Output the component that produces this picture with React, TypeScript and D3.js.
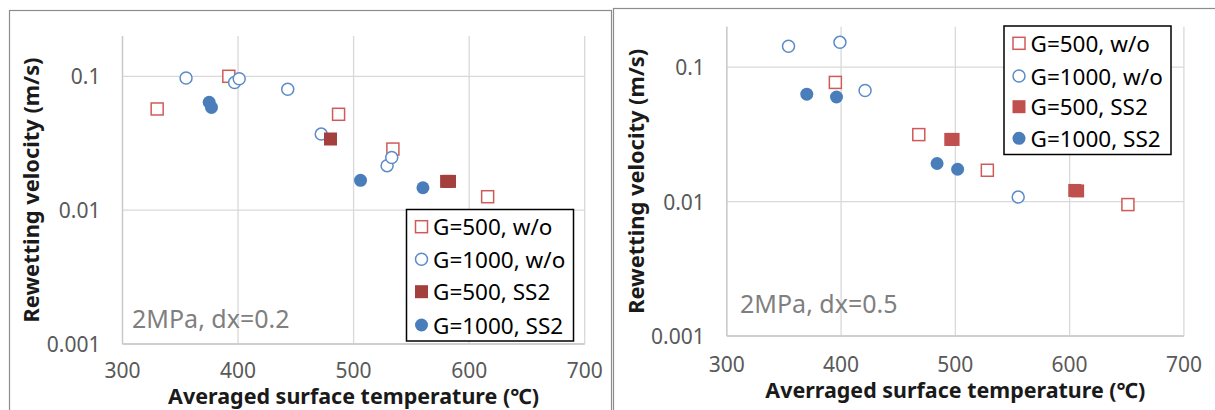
import React from 'react';
import * as d3 from 'd3';

// ---- data ----
const xTicks = [300, 400, 500, 600, 700];
const yTicks = [0.001, 0.01, 0.1];
const yTickLabels = ['0.001', '0.01', '0.1'];
const seriesNames = ['G=500, w/o', 'G=1000, w/o', 'G=500, SS2', 'G=1000, SS2'];

// left panel: dx=0.2
const leftG500WoT = [330, 392, 487, 534, 616];
const leftG500WoV = [0.057, 0.1, 0.052, 0.0286, 0.0126];
const leftG1000WoT = [355, 397, 401, 443, 472, 529, 533];
const leftG1000WoV = [0.097, 0.09, 0.096, 0.08, 0.037, 0.0215, 0.0247];
const leftG500SsT = [480, 580.5, 583];
const leftG500SsV = [0.034, 0.0164, 0.0164];
const leftG1000SsT = [375, 377, 506, 560];
const leftG1000SsV = [0.064, 0.0585, 0.0167, 0.0147];

// right panel: dx=0.5
const rightG500WoT = [395, 468, 528, 651];
const rightG500WoV = [0.077, 0.0315, 0.0171, 0.0095];
const rightG1000WoT = [354, 399, 421, 555];
const rightG1000WoV = [0.143, 0.153, 0.067, 0.0108];
const rightG500SsT = [496, 498, 604.5, 607];
const rightG500SsV = [0.029, 0.029, 0.0121, 0.012];
const rightG1000SsT = [370, 396, 484, 502];
const rightG1000SsV = [0.063, 0.06, 0.0192, 0.0174];

const zip = (t: number[], v: number[]) => t.map((d, i) => ({ t: d, v: v[i] }));

const FONT = '"Noto Sans", "DejaVu Sans", sans-serif';
const RED_LINE = '#CF5B58';
const BLUE_LINE = '#5B8BC8';
const BLUE_FILL = '#4A7EBB';

type Layout = {
  box: [number, number, number, number];
  x0: number; x1: number; yTop: number; yBottom: number;
  xTickBase: number;
  xTitle: string; xTitleBase: number; xTitleLen: number;
  yTitleX: number; yTitleLen: number;
  note: string; noteX: number; noteY: number;
  legend: { x: number; y: number; w: number; h: number; rows: number[]; markX: number; textX: number };
  squareFill: string;
  series: { t: number; v: number }[][];
};

const Marker = ({ kind, x, y, fill }: { kind: number; x: number; y: number; fill: string }) => {
  if (kind === 0)
    return <rect x={x - 6} y={y - 6} width={12} height={12} fill="#fff" stroke={RED_LINE} strokeWidth={1.5} />;
  if (kind === 1) return <circle cx={x} cy={y} r={6} fill="#fff" stroke={BLUE_LINE} strokeWidth={1.5} />;
  if (kind === 2) return <rect x={x - 6.5} y={y - 6.5} width={13} height={13} fill={fill} />;
  return <circle cx={x} cy={y} r={6.5} fill={BLUE_FILL} />;
};

const Panel = ({ p }: { p: Layout }) => {
  const x = d3.scaleLinear().domain([300, 700]).range([p.x0, p.x1]);
  const y = d3.scaleLog().domain([0.001, 0.2]).range([p.yBottom, p.yTop]);
  const lg = p.legend;
  return (
    <g>
      <rect x={p.box[0]} y={p.box[1]} width={p.box[2]} height={p.box[3]} fill="#fff" stroke="#8c8c8c" strokeWidth={1.2} />
      {xTicks.map(t => (
        <line key={'gx' + t} x1={x(t)} x2={x(t)} y1={p.yTop} y2={p.yBottom} stroke="#d9d9d9" strokeWidth={1.3} />
      ))}
      {yTicks.map(t => (
        <line key={'gy' + t} x1={p.x0} x2={p.x1} y1={y(t)} y2={y(t)} stroke="#d9d9d9" strokeWidth={1.3} />
      ))}
      <line x1={p.x0} x2={p.x1} y1={p.yBottom} y2={p.yBottom} stroke="#c8c8c8" strokeWidth={1.3} />
      <line x1={p.x0} x2={p.x0} y1={p.yTop} y2={p.yBottom} stroke="#c8c8c8" strokeWidth={1.3} />
      {xTicks.map(t => (
        <text key={'lx' + t} x={x(t)} y={p.xTickBase} textAnchor="middle" fontSize={21} fill="#595959" fontFamily={FONT}>
          {t}
        </text>
      ))}
      {yTicks.map((t, i) => (
        <text key={'ly' + t} x={p.x0 - 22} y={y(t)} textAnchor="end" dominantBaseline="central" fontSize={21} fill="#595959" fontFamily={FONT}>
          {yTickLabels[i]}
        </text>
      ))}
      <text x={(p.x0 + p.x1) / 2} y={p.xTitleBase} textAnchor="middle" fontSize={21} fontWeight="bold" fill="#1a1a1a"
        fontFamily={FONT} textLength={p.xTitleLen} lengthAdjust="spacingAndGlyphs">
        {p.xTitle}
      </text>
      <text transform={`translate(${p.yTitleX},${(p.yTop + p.yBottom) / 2}) rotate(-90)`} textAnchor="middle" fontSize={21}
        fontWeight="bold" fill="#1a1a1a" fontFamily={FONT} textLength={p.yTitleLen} lengthAdjust="spacingAndGlyphs">
        Rewetting velocity (m/s)
      </text>
      <text x={p.noteX} y={p.noteY} fontSize={25} fill="#7f7f7f" fontFamily={FONT}>
        {p.note}
      </text>
      {p.series.map((s, k) =>
        s.map((d, i) => <Marker key={k + '-' + i} kind={k} x={x(d.t)} y={y(d.v)} fill={p.squareFill} />)
      )}
      <rect x={lg.x} y={lg.y} width={lg.w} height={lg.h} fill="#fff" stroke="#000" strokeWidth={1.5} />
      {seriesNames.map((n, k) => (
        <g key={n}>
          <Marker kind={k} x={lg.markX} y={lg.rows[k]} fill={p.squareFill} />
          <text x={lg.textX} y={lg.rows[k]} dominantBaseline="central" fontSize={22.5} fill="#000" fontFamily={FONT}>
            {n}
          </text>
        </g>
      ))}
    </g>
  );
};

const left: Layout = {
  box: [9.5, 10.5, 602, 420],
  x0: 122.5, x1: 584.7, yTop: 36, yBottom: 344,
  xTickBase: 377.5,
  xTitle: 'Averaged surface temperature (℃)', xTitleBase: 404, xTitleLen: 371,
  yTitleX: 38.5, yTitleLen: 265,
  note: '2MPa, dx=0.2', noteX: 132, noteY: 328,
  legend: { x: 406.5, y: 209.5, w: 167, h: 131.5, rows: [226.7, 259.3, 291.7, 325], markX: 421.5, textX: 433 },
  squareFill: '#A33F3C',
  series: [zip(leftG500WoT, leftG500WoV), zip(leftG1000WoT, leftG1000WoV), zip(leftG500SsT, leftG500SsV), zip(leftG1000SsT, leftG1000SsV)],
};

const right: Layout = {
  box: [613.5, 8.5, 620, 420],
  x0: 726.8, x1: 1183.9, yTop: 26.7, yBottom: 336,
  xTickBase: 372,
  xTitle: 'Averraged surface temperature (℃)', xTitleBase: 398, xTitleLen: 380,
  yTitleX: 643.5, yTitleLen: 265,
  note: '2MPa, dx=0.5', noteX: 740, noteY: 313,
  legend: { x: 1004, y: 26, w: 167, h: 128.5, rows: [43.3, 76, 106.7, 138.3], markX: 1019, textX: 1030.5 },
  squareFill: '#C0504D',
  series: [zip(rightG500WoT, rightG500WoV), zip(rightG1000WoT, rightG1000WoV), zip(rightG500SsT, rightG500SsV), zip(rightG1000SsT, rightG1000SsV)],
};

export default function App() {
  return (
    <div style={{ position: 'fixed', left: 0, top: 0 }}>
      <svg width={1215} height={410} style={{ display: 'block', background: '#fff' }}>
        <Panel p={left} />
        <Panel p={right} />
      </svg>
    </div>
  );
}
